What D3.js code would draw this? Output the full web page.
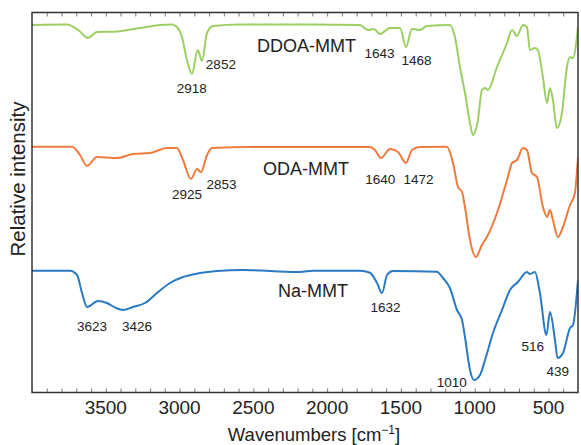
<!DOCTYPE html>
<html>
<head>
<meta charset="utf-8">
<script src="https://cdn.jsdelivr.net/npm/d3@7"></script>
<style>
  html, body { margin: 0; padding: 0; background: #fff; }
  svg { display: block; font-family: "Liberation Sans", Arial, Helvetica, sans-serif; }
</style>
</head>
<body>
<svg id="chart" width="581" height="445"></svg>
<script>
// FTIR spectra of montmorillonite samples (stacked, arbitrary intensity units)

const xTicks = [3500, 3000, 2500, 2000, 1500, 1000, 500];
const seriesNames = ["DDOA-MMT", "ODA-MMT", "Na-MMT"];
const seriesColors = ["#9ccf62", "#ee7b3d", "#2a7ac3"];

const ddoaWave = [4000, 3763, 3675, 3621, 3560, 3424, 3268, 3133, 3051, 3018, 2984, 2950, 2916, 2877, 2848, 2814, 2774, 2591, 2184, 1778, 1723, 1683, 1642, 1574, 1506, 1466, 1425, 1371, 1324, 1168, 1134, 1100, 1066, 1032, 1012, 978, 951, 930, 910, 849, 781, 747, 714, 673, 646, 626, 592, 572, 538, 510, 490, 470, 443, 409, 375, 354, 334, 300];
const ddoaInt  = [367.5, 368, 361, 354.5, 360.5, 361, 364.5, 367.5, 368, 365.5, 355.5, 332.5, 318.5, 342.5, 331.5, 359.5, 366.5, 368, 368, 367.5, 362.5, 363.5, 358.5, 364.5, 364.5, 345.5, 363.5, 362.5, 366.5, 367.5, 355.5, 325.5, 299.5, 269.5, 257.5, 272.5, 302.5, 304.5, 302.5, 325.5, 349.5, 362.5, 356.5, 367.5, 365.5, 342.5, 344.5, 342.5, 315.5, 289.5, 304.5, 292.5, 264.5, 279.5, 325.5, 335.5, 334.5, 365.5];

const odaWave = [4000, 3729, 3675, 3627, 3560, 3424, 3316, 3200, 3085, 3018, 2977, 2923, 2882, 2855, 2814, 2780, 2523, 1710, 1676, 1635, 1574, 1520, 1466, 1425, 1371, 1188, 1147, 1113, 1086, 1066, 1032, 992, 951, 917, 849, 781, 747, 714, 673, 646, 612, 578, 538, 510, 490, 470, 436, 402, 354, 321, 300];
const odaInt  = [245.8, 245.8, 237.5, 226.5, 235.5, 234.5, 238.5, 239.5, 244.5, 244.5, 232.5, 213.5, 223.5, 220.5, 237.5, 244.5, 245.5, 245.5, 242.5, 234.5, 243.5, 240.5, 229.5, 242.5, 245.5, 245.8, 229.5, 205.5, 200.5, 185.5, 152.5, 135.5, 147.5, 155.5, 179.5, 212.5, 229.5, 232.5, 244.5, 242.5, 219.5, 215.5, 185.5, 175.5, 182.5, 172.5, 155.5, 165.5, 187.5, 199.5, 235.5];

const naWave = [4000, 3743, 3695, 3661, 3627, 3553, 3492, 3431, 3383, 3316, 3234, 3153, 3065, 2977, 2862, 2746, 2570, 2387, 2184, 2096, 1778, 1710, 1662, 1628, 1594, 1554, 1256, 1215, 1168, 1120, 1086, 1066, 1032, 1005, 964, 930, 876, 815, 761, 707, 646, 626, 592, 558, 514, 490, 456, 439, 402, 354, 334, 300];
const naInt  = [121.8, 121.8, 117.5, 99.5, 85.5, 91.5, 89.5, 84.5, 82.5, 85.5, 89.5, 99.5, 109.5, 115.5, 119.5, 121.5, 122.5, 121.5, 120.5, 121.8, 121.8, 119.8, 109.5, 99.5, 117.5, 121.5, 120.8, 114.5, 104.5, 82.5, 72.5, 55.5, 22.5, 12.5, 17.5, 32.5, 59.5, 82.5, 102.5, 110.5, 120.5, 118.5, 120.5, 99.5, 57.5, 80.5, 52.5, 34.5, 39.5, 64.5, 67.5, 112.5];

// peak annotations, placed in data coordinates next to each band
const peakLabels = [
  { text: "2918", x: 2918, y: 300 },
  { text: "2852", x: 2720, y: 324 },
  { text: "1643", x: 1645, y: 335 },
  { text: "1468", x: 1395, y: 328 },
  { text: "2925", x: 2950, y: 194 },
  { text: "2853", x: 2715, y: 204 },
  { text: "1640", x: 1640, y: 209 },
  { text: "1472", x: 1381, y: 209 },
  { text: "3623", x: 3593, y: 62 },
  { text: "3426", x: 3288, y: 62 },
  { text: "1632", x: 1605, y: 81 },
  { text: "516",  x: 606,  y: 42 },
  { text: "439",  x: 437,  y: 17 },
  { text: "1010", x: 1155, y: 6 }
];
const seriesLabelPos = [
  { x: 2476, y: 341 },
  { x: 2435, y: 218 },
  { x: 2333, y: 96 }
];

const svg = d3.select("#chart");
const margin = { left: 32, right: 3, top: 12.5, bottom: 52.5 };
const W = 581, H = 445;

const x = d3.scaleLinear().domain([4000, 300]).range([margin.left, W - margin.right]);
const y = d3.scaleLinear().domain([0, 380]).range([H - margin.bottom, margin.top]);

const series = [
  { wave: ddoaWave, inten: ddoaInt },
  { wave: odaWave, inten: odaInt },
  { wave: naWave, inten: naInt }
];

svg.append("clipPath").attr("id", "plotclip")
  .append("rect")
  .attr("x", margin.left).attr("y", margin.top)
  .attr("width", W - margin.left - margin.right)
  .attr("height", H - margin.top - margin.bottom);

const line = d3.line()
  .x(d => x(d[0]))
  .y(d => y(d[1]))
  .curve(d3.curveMonotoneX);

const plot = svg.append("g").attr("clip-path", "url(#plotclip)");
series.forEach((s, i) => {
  const pts = s.wave.map((w, k) => [w, s.inten[k]]);
  plot.append("path")
    .datum(pts)
    .attr("d", line)
    .attr("fill", "none")
    .attr("stroke", seriesColors[i])
    .attr("stroke-width", 2)
    .attr("stroke-linejoin", "round");
});

// axes: minor ticks every 100 cm-1, inward, on bottom and top
const minorTicks = d3.range(400, 4000, 100);
const bottomAxis = d3.axisBottom(x).tickValues(minorTicks).tickSizeInner(-4).tickSizeOuter(0).tickFormat("");
const topAxis = d3.axisTop(x).tickValues(minorTicks).tickSizeInner(-4).tickSizeOuter(0).tickFormat("");

const gb = svg.append("g").attr("transform", `translate(0,${H - margin.bottom})`).call(bottomAxis);
const gt = svg.append("g").attr("transform", `translate(0,${margin.top})`).call(topAxis);
[gb, gt].forEach(g => {
  g.select(".domain").remove();
  g.selectAll(".tick line").attr("stroke", "#555").attr("stroke-width", 0.8);
});

// tick labels
svg.append("g").selectAll("text")
  .data(xTicks)
  .join("text")
  .attr("x", d => x(d))
  .attr("y", H - margin.bottom + 21)
  .attr("text-anchor", "middle")
  .attr("font-size", 19)
  .attr("fill", "#222")
  .text(d => d);

// frame
svg.append("rect")
  .attr("x", margin.left).attr("y", margin.top)
  .attr("width", W - margin.left - margin.right)
  .attr("height", H - margin.top - margin.bottom)
  .attr("fill", "none")
  .attr("stroke", "#333")
  .attr("stroke-width", 1.5);

// axis titles
const xt = svg.append("text")
  .attr("x", 314)
  .attr("y", 441)
  .attr("text-anchor", "middle")
  .attr("font-size", 18.5)
  .attr("fill", "#222");
xt.append("tspan").text("Wavenumbers [cm");
xt.append("tspan").attr("font-size", 12).attr("dy", -7).text("\u22121");
xt.append("tspan").attr("dy", 7).text("]");

svg.append("text")
  .attr("transform", "translate(25,179) rotate(-90)")
  .attr("text-anchor", "middle")
  .attr("font-size", 20.5)
  .attr("fill", "#222")
  .text("Relative intensity");

// series names
svg.append("g").selectAll("text")
  .data(seriesNames)
  .join("text")
  .attr("x", (d, i) => x(seriesLabelPos[i].x))
  .attr("y", (d, i) => y(seriesLabelPos[i].y))
  .attr("font-size", 18)
  .attr("fill", "#222")
  .text(d => d);

// peak labels
svg.append("g").selectAll("text")
  .data(peakLabels)
  .join("text")
  .attr("x", d => x(d.x))
  .attr("y", d => y(d.y))
  .attr("text-anchor", "middle")
  .attr("font-size", 13.5)
  .attr("fill", "#222")
  .text(d => d.text);
</script>
</body>
</html>
